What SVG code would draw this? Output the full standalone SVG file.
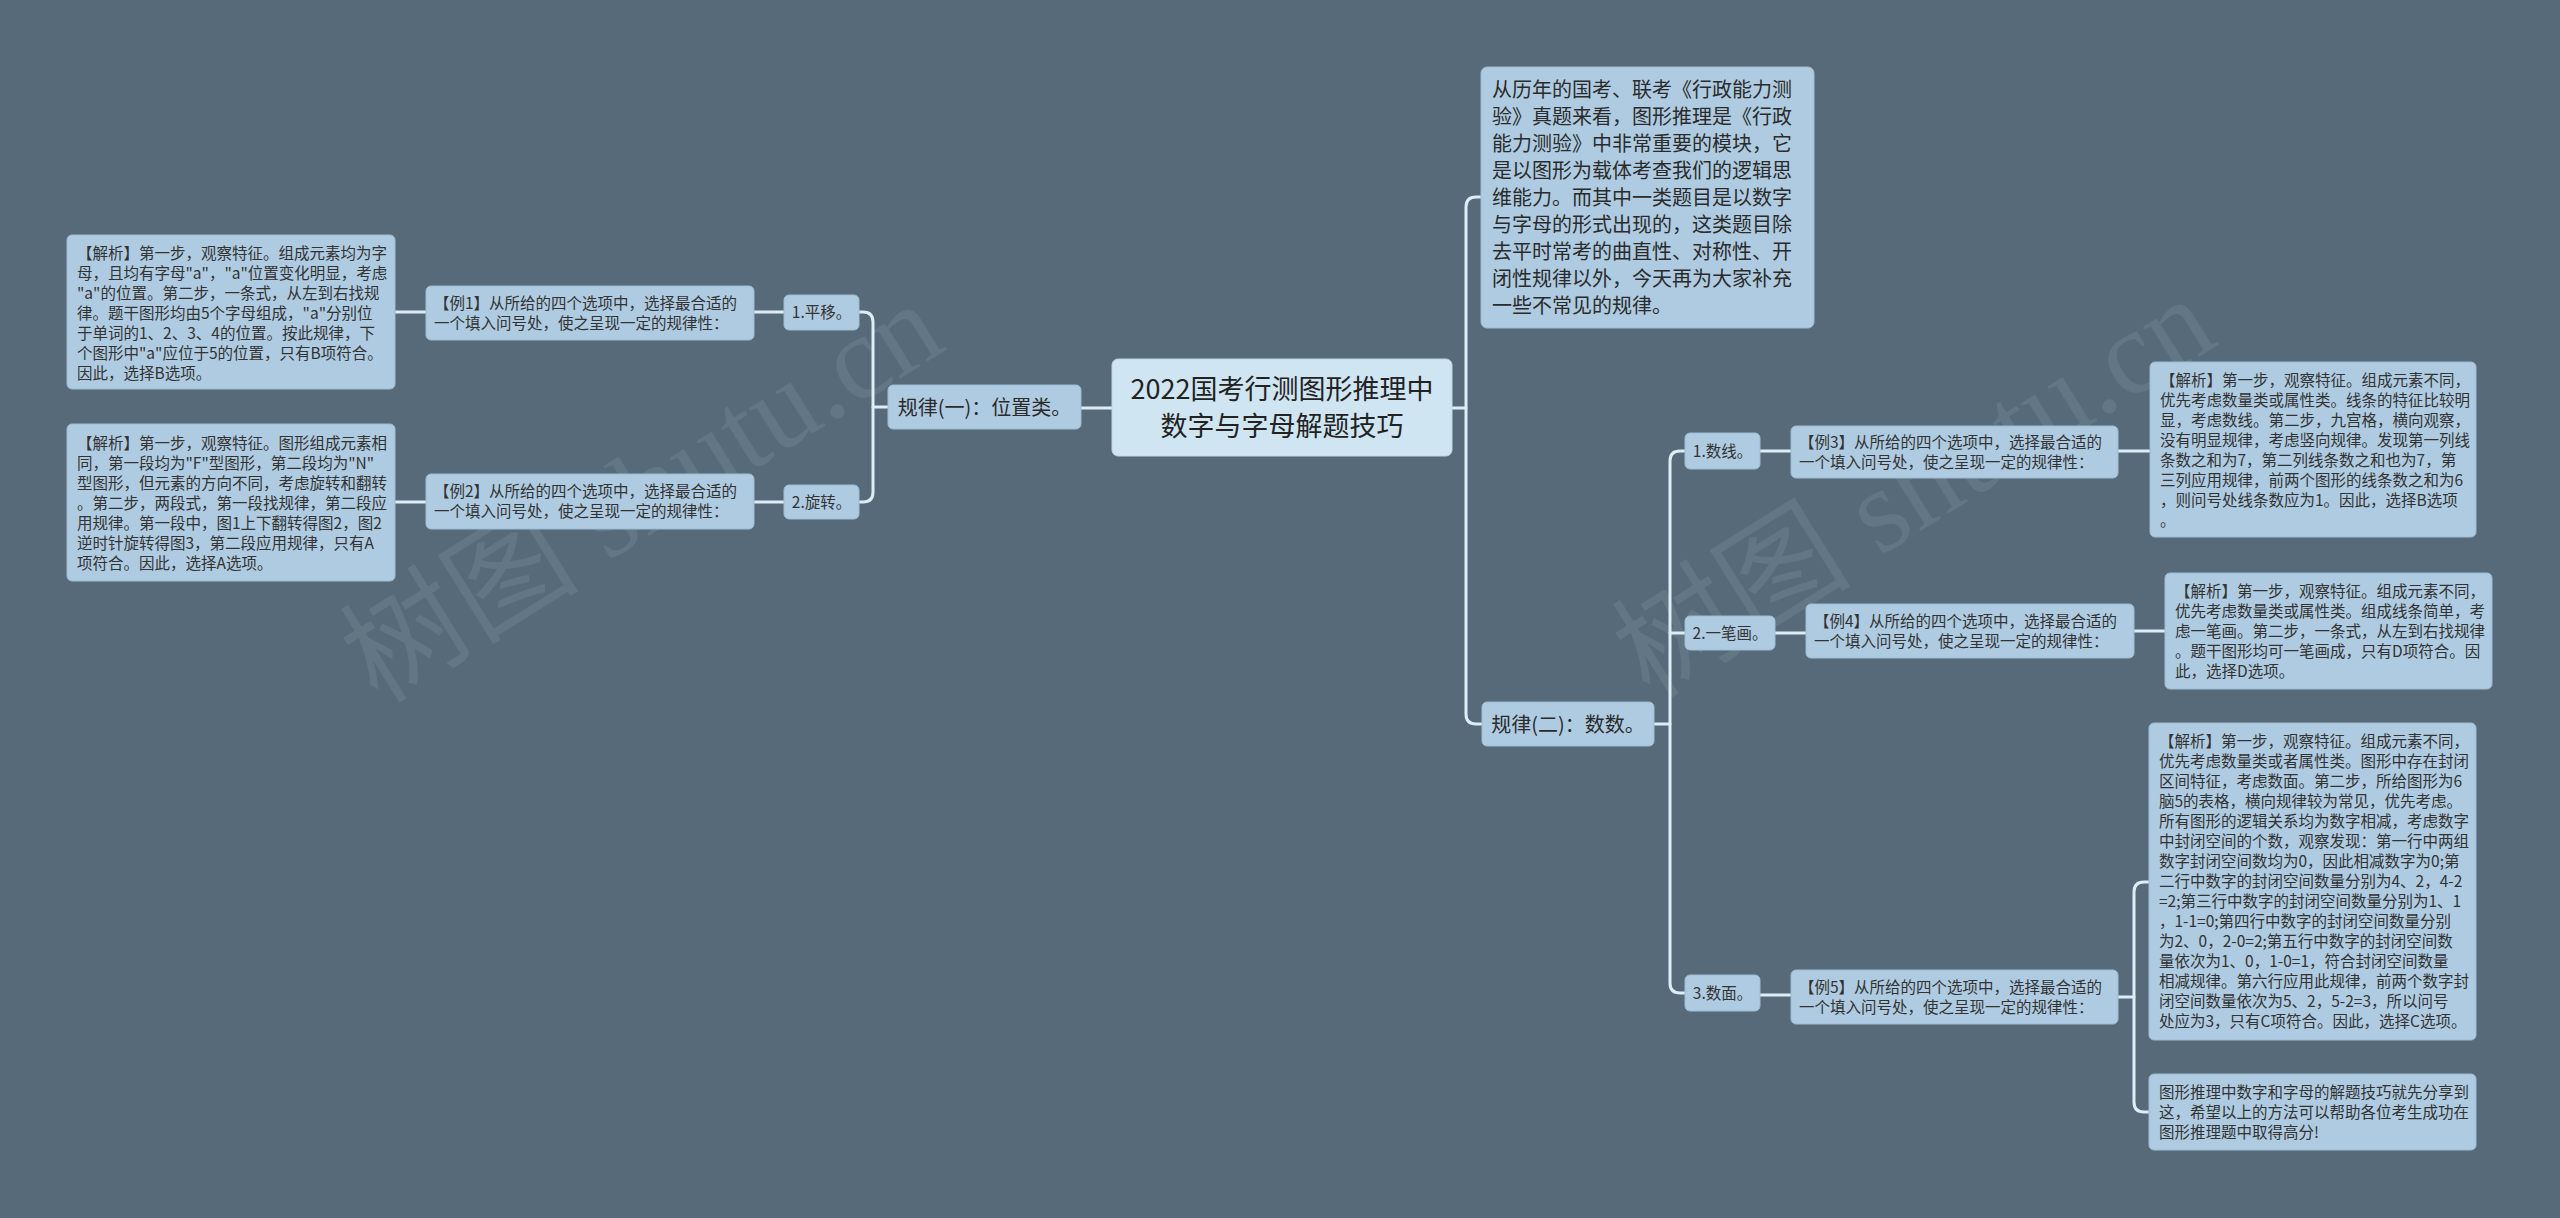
<svg xmlns="http://www.w3.org/2000/svg" width="2560" height="1218" viewBox="0 0 2560 1218">
<style>
.bg{fill:#566a79}
.box{fill:#aecbe1;stroke:#9dbbd2;stroke-width:1}
.root{fill:#cfe5f2;stroke:#b9d6e8;stroke-width:1}
.t{font-family:"Noto Sans CJK SC","Noto Sans",sans-serif;font-size:15.5px;fill:#333}
.tl{font-family:"Noto Sans CJK SC","Noto Sans",sans-serif;font-size:20px;fill:#2b2b2b}
.tr{font-family:"Noto Sans CJK SC","Noto Sans",sans-serif;font-size:27px;fill:#222}
.c{fill:none;stroke:#dcedf6;stroke-width:3;stroke-linecap:round}
.wm{font-family:"Liberation Serif","Noto Sans CJK SC",serif;font-size:120px;fill:#8d9aa4;opacity:0.25}
</style>
<rect class="bg" x="0" y="0" width="2560" height="1218"/>
<g id="watermarks">
<text class="wm" transform="translate(378,705) rotate(-32)">树图 shutu.cn</text>
<text class="wm" transform="translate(1650,700) rotate(-32)">树图 shutu.cn</text>
</g>
<g id="connectors">
<path class="c" d="M1112,408 H1081"/>
<path class="c" d="M888,407 H873"/>
<path class="c" d="M859,312 H863 Q873,312 873,322 V492 Q873,502 863,502 H859"/>
<path class="c" d="M784,312 H754"/>
<path class="c" d="M426,312 H395"/>
<path class="c" d="M784,502 H754"/>
<path class="c" d="M426,502 H395"/>
<path class="c" d="M1452,408 H1466"/>
<path class="c" d="M1481,197 H1476 Q1466,197 1466,207 V714 Q1466,724 1476,724 H1482"/>
<path class="c" d="M1654,724 H1670"/>
<path class="c" d="M1685,451 H1680 Q1670,451 1670,461 V983 Q1670,993 1680,993 H1685"/>
<path class="c" d="M1670,633 H1685"/>
<path class="c" d="M1760,451 H1791"/>
<path class="c" d="M2118,451 H2149"/>
<path class="c" d="M1775,633 H1806"/>
<path class="c" d="M2134,631 H2165"/>
<path class="c" d="M1760,995 H1791"/>
<path class="c" d="M2118,997 H2134"/>
<path class="c" d="M2149,882 H2144 Q2134,882 2134,892 V1102 Q2134,1112 2144,1112 H2149"/>
</g>
<g id="root">
<rect class="root" x="1112" y="359" width="340" height="97" rx="6"/>
<text class="tr" text-anchor="middle"><tspan x="1282" y="399">2022国考行测图形推理中</tspan><tspan x="1282" y="436">数字与字母解题技巧</tspan></text>
</g>
<g id="rule1">
<rect class="box" x="888" y="385" width="193" height="44" rx="5"/>
<text class="tl" text-anchor="middle" x="984.5" y="414.6">规律(一)：位置类。</text>
</g>
<g id="r1a">
<rect class="box" x="784" y="295" width="75" height="35" rx="5"/>
<text class="t" text-anchor="middle" x="821.5" y="318.4">1.平移。</text>
</g>
<g id="r1b">
<rect class="box" x="784" y="485" width="75" height="34" rx="5"/>
<text class="t" text-anchor="middle" x="821.5" y="507.9">2.旋转。</text>
</g>
<g id="ex1">
<rect class="box" x="426" y="286" width="328" height="54" rx="5"/>
<text class="t"><tspan x="434" y="309">【例1】从所给的四个选项中，选择最合适的</tspan><tspan x="434" y="329">一个填入问号处，使之呈现一定的规律性：</tspan></text>
</g>
<g id="ex2">
<rect class="box" x="426" y="474" width="328" height="55" rx="5"/>
<text class="t"><tspan x="434" y="497">【例2】从所给的四个选项中，选择最合适的</tspan><tspan x="434" y="517">一个填入问号处，使之呈现一定的规律性：</tspan></text>
</g>
<g id="an1">
<rect class="box" x="67" y="235" width="328" height="154" rx="5"/>
<text class="t"><tspan x="77" y="259">【解析】第一步，观察特征。组成元素均为字</tspan><tspan x="77" y="279">母，且均有字母"a"，"a"位置变化明显，考虑</tspan><tspan x="77" y="299">"a"的位置。第二步，一条式，从左到右找规</tspan><tspan x="77" y="319">律。题干图形均由5个字母组成，"a"分别位</tspan><tspan x="77" y="339">于单词的1、2、3、4的位置。按此规律，下</tspan><tspan x="77" y="359">个图形中"a"应位于5的位置，只有B项符合。</tspan><tspan x="77" y="379">因此，选择B选项。</tspan></text>
</g>
<g id="an2">
<rect class="box" x="67" y="424" width="328" height="157" rx="5"/>
<text class="t"><tspan x="77" y="449">【解析】第一步，观察特征。图形组成元素相</tspan><tspan x="77" y="469">同，第一段均为"F"型图形，第二段均为"N"</tspan><tspan x="77" y="489">型图形，但元素的方向不同，考虑旋转和翻转</tspan><tspan x="77" y="509">。第二步，两段式，第一段找规律，第二段应</tspan><tspan x="77" y="529">用规律。第一段中，图1上下翻转得图2，图2</tspan><tspan x="77" y="549">逆时针旋转得图3，第二段应用规律，只有A</tspan><tspan x="77" y="569">项符合。因此，选择A选项。</tspan></text>
</g>
<g id="intro">
<rect class="box" x="1481" y="67" width="333" height="261" rx="6"/>
<text class="tl"><tspan x="1492" y="97">从历年的国考、联考《行政能力测</tspan><tspan x="1492" y="124">验》真题来看，图形推理是《行政</tspan><tspan x="1492" y="151">能力测验》中非常重要的模块，它</tspan><tspan x="1492" y="178">是以图形为载体考查我们的逻辑思</tspan><tspan x="1492" y="205">维能力。而其中一类题目是以数字</tspan><tspan x="1492" y="232">与字母的形式出现的，这类题目除</tspan><tspan x="1492" y="259">去平时常考的曲直性、对称性、开</tspan><tspan x="1492" y="286">闭性规律以外，今天再为大家补充</tspan><tspan x="1492" y="313">一些不常见的规律。</tspan></text>
</g>
<g id="rule2">
<rect class="box" x="1482" y="702" width="172" height="44" rx="5"/>
<text class="tl" text-anchor="middle" x="1568" y="731.6">规律(二)：数数。</text>
</g>
<g id="r2a">
<rect class="box" x="1685" y="433" width="75" height="36" rx="5"/>
<text class="t" text-anchor="middle" x="1722.5" y="456.9">1.数线。</text>
</g>
<g id="r2b">
<rect class="box" x="1685" y="616" width="90" height="34" rx="5"/>
<text class="t" text-anchor="middle" x="1730" y="638.9">2.一笔画。</text>
</g>
<g id="r2c">
<rect class="box" x="1685" y="975" width="75" height="36" rx="5"/>
<text class="t" text-anchor="middle" x="1722.5" y="998.9">3.数面。</text>
</g>
<g id="ex3">
<rect class="box" x="1791" y="426" width="327" height="52" rx="5"/>
<text class="t"><tspan x="1799" y="448">【例3】从所给的四个选项中，选择最合适的</tspan><tspan x="1799" y="468">一个填入问号处，使之呈现一定的规律性：</tspan></text>
</g>
<g id="ex4">
<rect class="box" x="1806" y="604" width="328" height="54" rx="5"/>
<text class="t"><tspan x="1814" y="627">【例4】从所给的四个选项中，选择最合适的</tspan><tspan x="1814" y="647">一个填入问号处，使之呈现一定的规律性：</tspan></text>
</g>
<g id="ex5">
<rect class="box" x="1791" y="970" width="327" height="54" rx="5"/>
<text class="t"><tspan x="1799" y="993">【例5】从所给的四个选项中，选择最合适的</tspan><tspan x="1799" y="1013">一个填入问号处，使之呈现一定的规律性：</tspan></text>
</g>
<g id="an3">
<rect class="box" x="2150" y="362" width="326" height="175" rx="5"/>
<text class="t"><tspan x="2160" y="386">【解析】第一步，观察特征。组成元素不同，</tspan><tspan x="2160" y="406">优先考虑数量类或属性类。线条的特征比较明</tspan><tspan x="2160" y="426">显，考虑数线。第二步，九宫格，横向观察，</tspan><tspan x="2160" y="446">没有明显规律，考虑竖向规律。发现第一列线</tspan><tspan x="2160" y="466">条数之和为7，第二列线条数之和也为7，第</tspan><tspan x="2160" y="486">三列应用规律，前两个图形的线条数之和为6</tspan><tspan x="2160" y="506">，则问号处线条数应为1。因此，选择B选项</tspan><tspan x="2160" y="526">。</tspan></text>
</g>
<g id="an4">
<rect class="box" x="2165" y="573" width="327" height="116" rx="5"/>
<text class="t"><tspan x="2175" y="597">【解析】第一步，观察特征。组成元素不同，</tspan><tspan x="2175" y="617">优先考虑数量类或属性类。组成线条简单，考</tspan><tspan x="2175" y="637">虑一笔画。第二步，一条式，从左到右找规律</tspan><tspan x="2175" y="657">。题干图形均可一笔画成，只有D项符合。因</tspan><tspan x="2175" y="677">此，选择D选项。</tspan></text>
</g>
<g id="an5">
<rect class="box" x="2149" y="723" width="327" height="317" rx="5"/>
<text class="t"><tspan x="2159" y="747">【解析】第一步，观察特征。组成元素不同，</tspan><tspan x="2159" y="767">优先考虑数量类或者属性类。图形中存在封闭</tspan><tspan x="2159" y="787">区间特征，考虑数面。第二步，所给图形为6</tspan><tspan x="2159" y="807">脑5的表格，横向规律较为常见，优先考虑。</tspan><tspan x="2159" y="827">所有图形的逻辑关系均为数字相减，考虑数字</tspan><tspan x="2159" y="847">中封闭空间的个数，观察发现：第一行中两组</tspan><tspan x="2159" y="867">数字封闭空间数均为0，因此相减数字为0;第</tspan><tspan x="2159" y="887">二行中数字的封闭空间数量分别为4、2，4-2</tspan><tspan x="2159" y="907">=2;第三行中数字的封闭空间数量分别为1、1</tspan><tspan x="2159" y="927">，1-1=0;第四行中数字的封闭空间数量分别</tspan><tspan x="2159" y="947">为2、0，2-0=2;第五行中数字的封闭空间数</tspan><tspan x="2159" y="967">量依次为1、0，1-0=1，符合封闭空间数量</tspan><tspan x="2159" y="987">相减规律。第六行应用此规律，前两个数字封</tspan><tspan x="2159" y="1007">闭空间数量依次为5、2，5-2=3，所以问号</tspan><tspan x="2159" y="1027">处应为3，只有C项符合。因此，选择C选项。</tspan></text>
</g>
<g id="end">
<rect class="box" x="2149" y="1074" width="327" height="76" rx="5"/>
<text class="t"><tspan x="2159" y="1098">图形推理中数字和字母的解题技巧就先分享到</tspan><tspan x="2159" y="1118">这，希望以上的方法可以帮助各位考生成功在</tspan><tspan x="2159" y="1138">图形推理题中取得高分!</tspan></text>
</g>
</svg>
